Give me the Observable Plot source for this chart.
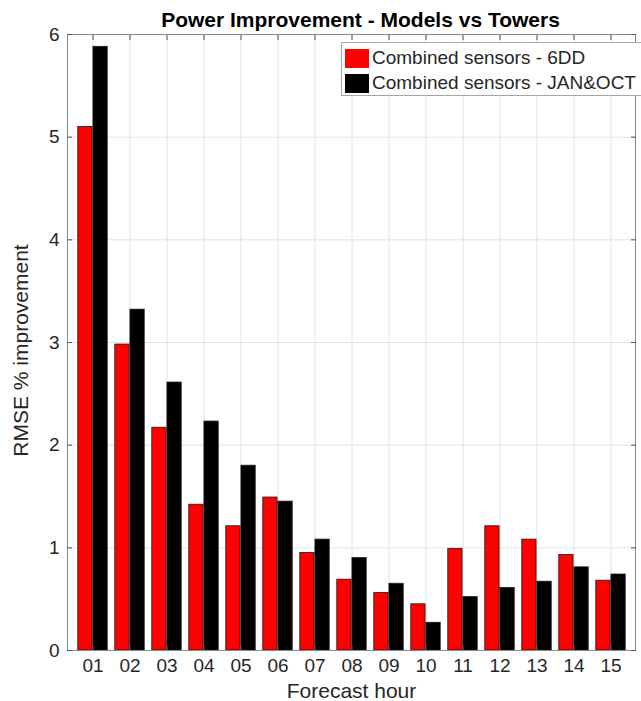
<!DOCTYPE html>
<html>
<head>
<meta charset="utf-8">
<script src="https://cdn.jsdelivr.net/npm/d3@7"></script>
<script src="https://cdn.jsdelivr.net/npm/@observablehq/plot@0.6"></script>
<style>
  html, body { margin: 0; padding: 0; background: #fff; }
  #wrap { position: relative; width: 641px; height: 701px; overflow: hidden; font-family: "Liberation Sans", Arial, sans-serif; }
  #legend { position: absolute; left: 341px; top: 42px; width: 330px; height: 52px; border: 1px solid #a6a6a6; background: #fff; }
  .item { position: absolute; left: 3px; height: 20px; display: flex; align-items: center; font-size: 19px; color: #262626; white-space: nowrap; }
  .sw { width: 24px; height: 19px; margin-right: 3px; box-sizing: border-box; }
</style>
</head>
<body>
<div id="wrap"></div>
<script>
const hours = ["01","02","03","04","05","06","07","08","09","10","11","12","13","14","15"];
const seriesNames = ["Combined sensors - 6DD", "Combined sensors - JAN&OCT"];
const seriesColors = ["#ff0000", "#000000"];
const sixDD  = [5.10, 2.98, 2.17, 1.42, 1.21, 1.49, 0.95, 0.69, 0.56, 0.45, 0.99, 1.21, 1.08, 0.93, 0.68];
const janOct = [5.88, 3.32, 2.61, 2.23, 1.80, 1.45, 1.08, 0.90, 0.65, 0.27, 0.52, 0.61, 0.67, 0.81, 0.74];
const yTicks = [0, 1, 2, 3, 4, 5, 6];
const title = "Power Improvement - Models vs Towers";
const xLabel = "Forecast hour";
const yLabel = "RMSE % improvement";

const d6 = hours.map((h, i) => ({hour: h, value: sixDD[i]}));
const dj = hours.map((h, i) => ({hour: h, value: janOct[i]}));

const W = 641, H = 701, mL = 67, mR = 6, mT = 34, mB = 51;
const step = (W - mL - mR) / hours.length;

const chart = Plot.plot({
  width: W, height: H,
  marginLeft: mL, marginRight: mR, marginTop: mT, marginBottom: mB,
  style: {fontFamily: "'Liberation Sans', Arial, sans-serif", fontSize: "19px", color: "#262626", background: "#fff"},
  x: {domain: hours, padding: 0, label: null},
  y: {domain: [0, 6], label: null},
  marks: [
    Plot.gridX(hours, {stroke: "#e2e2e2", strokeOpacity: 1}),
    Plot.gridY(yTicks.slice(1, -1), {stroke: "#e2e2e2", strokeOpacity: 1}),
    Plot.barY(d6, {x: "hour", y: "value", fill: seriesColors[0], stroke: "#1a1a1a", strokeWidth: 0.8,
      insetLeft: 0.1 * step, insetRight: 0.5 * step}),
    Plot.barY(dj, {x: "hour", y: "value", fill: seriesColors[1], stroke: "#1a1a1a", strokeWidth: 0.8,
      insetLeft: 0.5 * step, insetRight: 0.1 * step}),
    Plot.frame({stroke: "#8a8a8a", strokeWidth: 1}),
    Plot.axisX({anchor: "bottom", tickSize: -5, tickPadding: 13, label: null, stroke: "#555", fontSize: 19}),
    Plot.axisX({anchor: "top", tickSize: -5, tickFormat: () => "", label: null, stroke: "#555"}),
    Plot.axisY({anchor: "left", ticks: yTicks, tickFormat: d3.format("d"), tickSize: -5, tickPadding: 13, label: null, stroke: "#555", fontSize: 19}),
    Plot.axisY({anchor: "right", ticks: yTicks, tickSize: -5, tickFormat: () => "", label: null, stroke: "#555"}),
    Plot.text([title], {frameAnchor: "top", dx: 9, dy: -8, lineAnchor: "bottom", textAnchor: "middle", fontWeight: "bold", fontSize: 21, fill: "#000"}),
    Plot.text([xLabel], {frameAnchor: "bottom", dy: 47, lineAnchor: "bottom", textAnchor: "middle", fontSize: 21, fill: "#262626"}),
    Plot.text([yLabel], {frameAnchor: "left", dx: -46, dy: 8, rotate: -90, lineAnchor: "middle", textAnchor: "middle", fontSize: 21, fill: "#262626"})
  ]
});

const wrap = document.getElementById("wrap");
wrap.appendChild(chart);

const legend = document.createElement("div");
legend.id = "legend";
seriesNames.forEach((name, i) => {
  const it = document.createElement("div");
  it.className = "item";
  it.style.top = (5 + i * 25) + "px";
  const sw = document.createElement("div");
  sw.className = "sw";
  sw.style.background = seriesColors[i];
  const tx = document.createElement("span");
  tx.textContent = name;
  it.appendChild(sw);
  it.appendChild(tx);
  legend.appendChild(it);
});
wrap.appendChild(legend);
</script>
</body>
</html>
